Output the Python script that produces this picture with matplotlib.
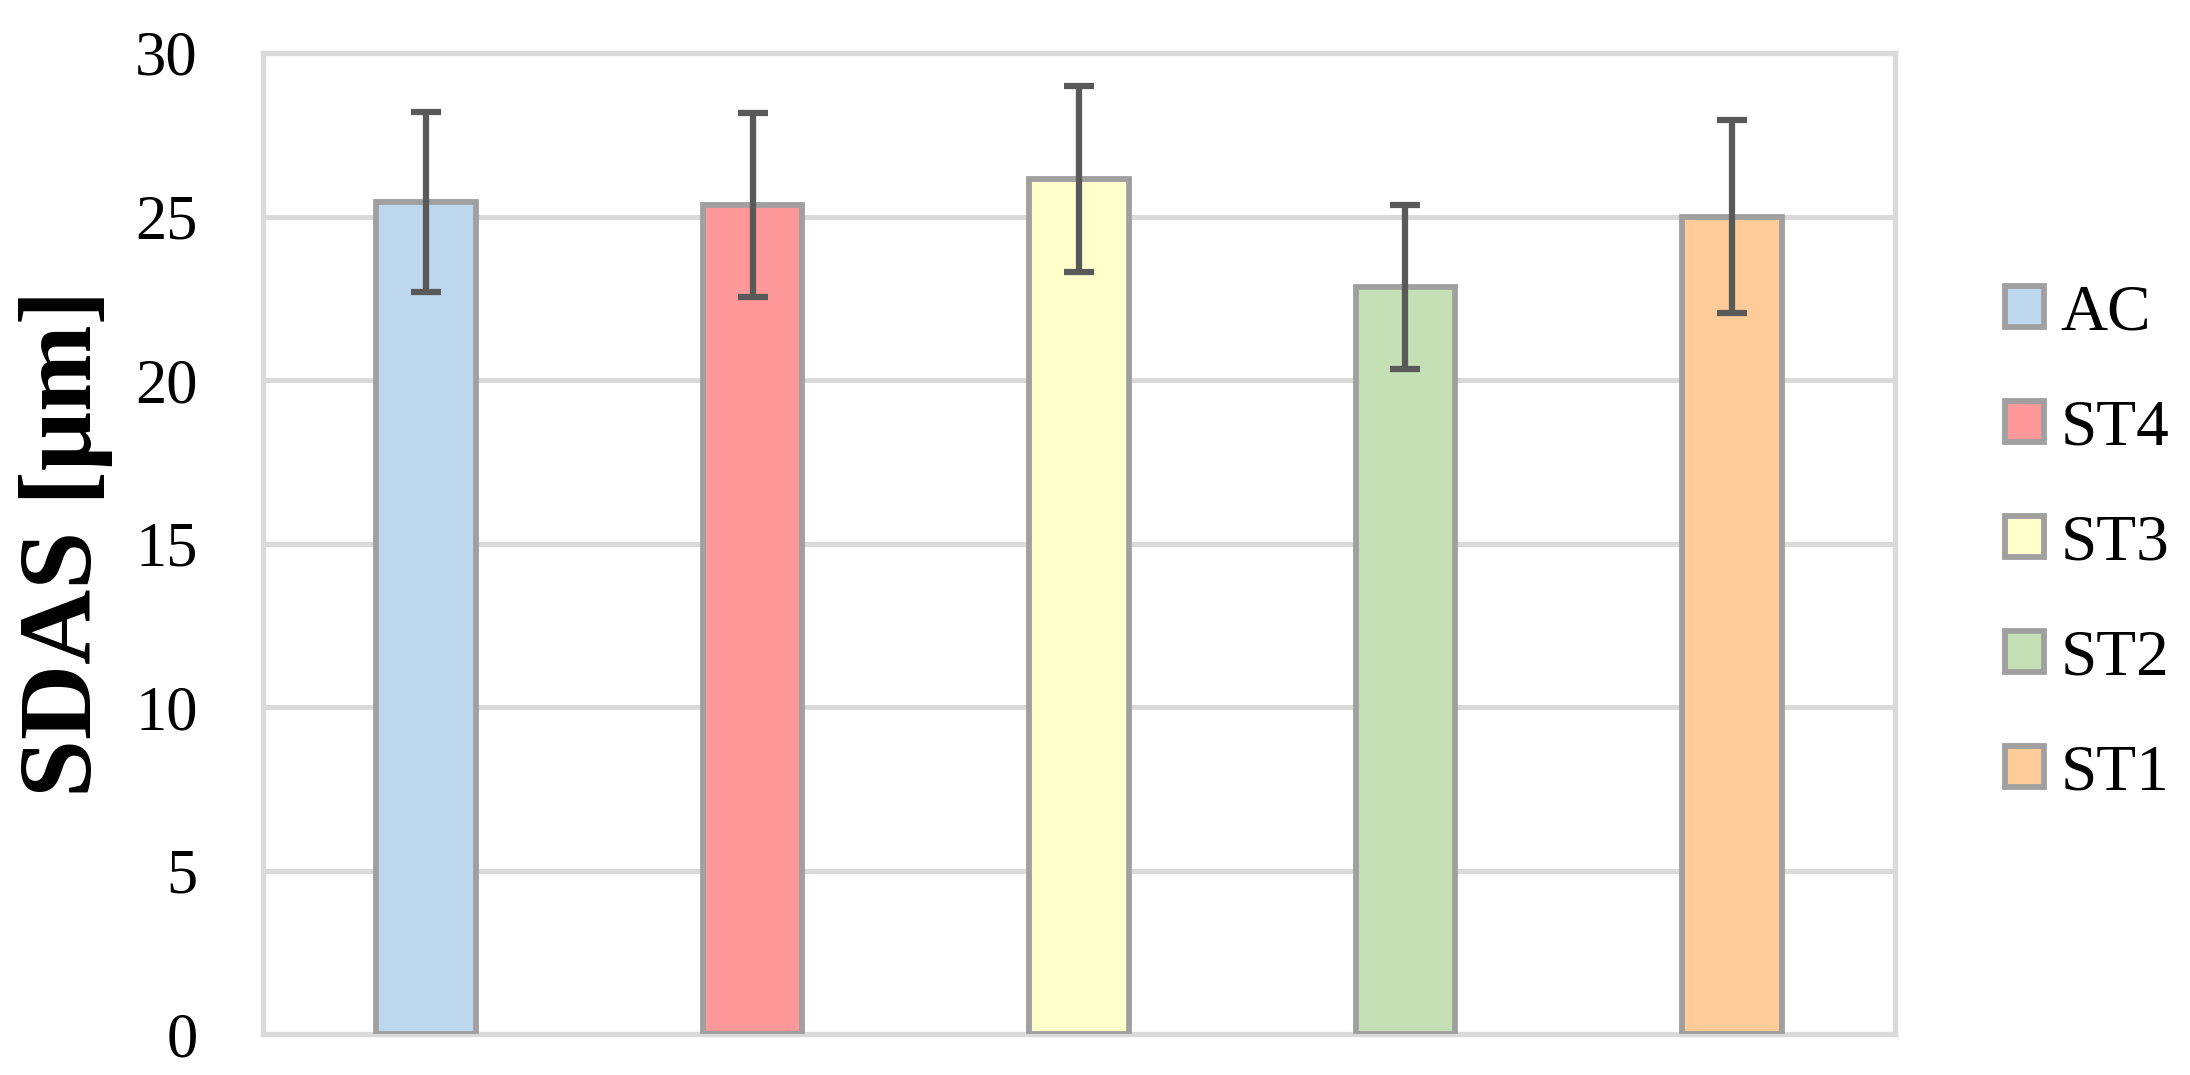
import matplotlib.pyplot as plt
import numpy as np

groups = ["AC", "ST4", "ST3", "ST2", "ST1"]
sdas = [25.45, 25.35, 26.15, 22.85, 25.0]
sdas_err = [2.75, 2.8, 2.85, 2.5, 2.95]
colors = ["#BDD7EE", "#FF9999", "#FFFFCC", "#C5E0B4", "#FFCC99"]

plt.rcParams["font.family"] = ["Liberation Serif", "DejaVu Serif"]

fig = plt.figure(figsize=(21.9, 10.75), dpi=100)
ax = fig.add_axes([0.1201, 0.0381, 0.7452, 0.9126])

x = np.arange(len(groups))
ax.bar(x, sdas, width=0.305, color=colors, edgecolor="#A0A0A0",
       linewidth=4.2, zorder=3)
ax.errorbar(x, sdas, yerr=sdas_err, fmt="none", ecolor="#595959",
            elinewidth=4.5, capsize=11, capthick=4.5, zorder=4)

ax.set_xlim(-0.5, len(groups) - 0.5)
ax.set_ylim(0, 30)
ax.set_yticks(range(0, 31, 5))
ax.set_xticks([])
ax.yaxis.grid(True, color="#DADADA", linewidth=3.6, zorder=0)
ax.set_axisbelow(True)
for s in ax.spines.values():
    s.set_color("#DADADA")
    s.set_linewidth(3.8)
ax.tick_params(axis="y", length=0, pad=47, labelsize=45)
ax.set_ylabel("SDAS [μm]", fontsize=75, fontweight="bold", labelpad=16)

handles = [plt.Rectangle((0, 0), 1, 1, facecolor=c, edgecolor="#A0A0A0",
                         linewidth=4.2) for c in colors]
fig.legend(handles, groups, loc="center left", bbox_to_anchor=(0.9155, 0.494),
           frameon=False, fontsize=47, handlelength=0.6, handleheight=0.6,
           handletextpad=0.25, labelspacing=0.85, borderpad=0,
           borderaxespad=0)

fig.savefig("out.png", dpi=100)
